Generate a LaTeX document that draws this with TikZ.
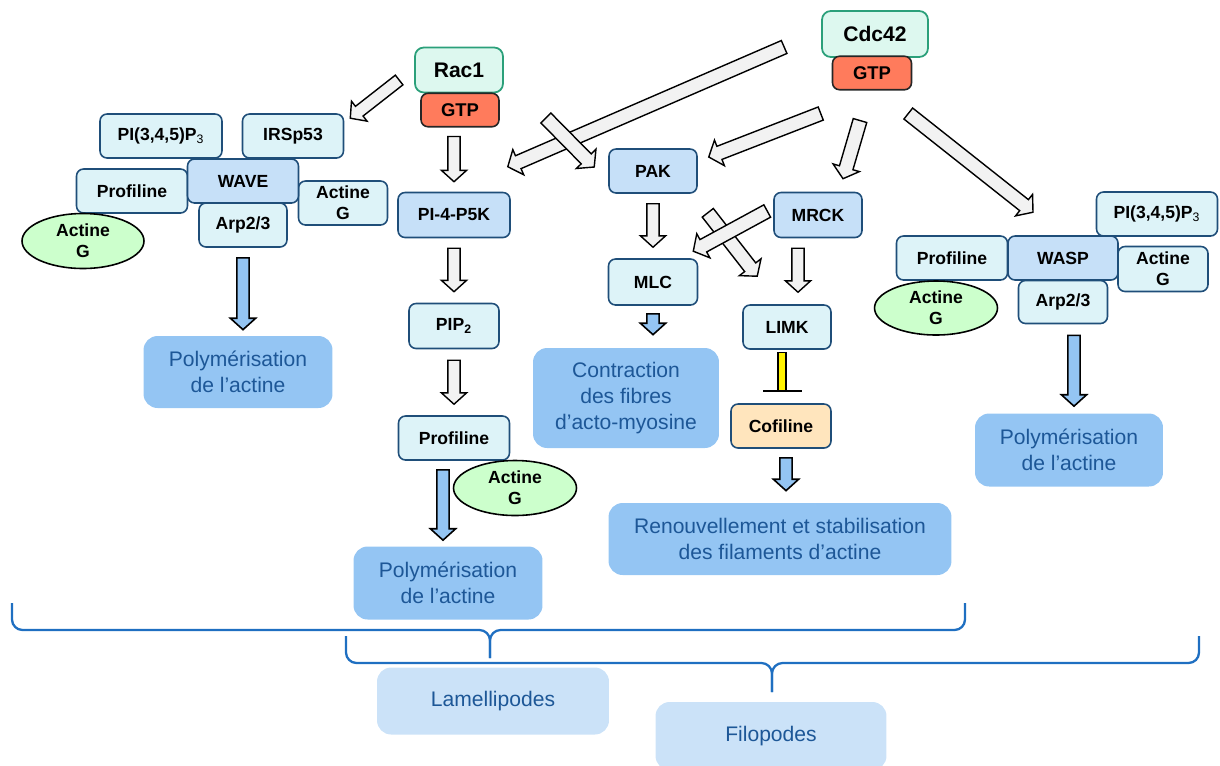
\documentclass[tikz,border=0pt]{standalone}
\usepackage{fontspec}
\setmainfont{Liberation Sans}
\usetikzlibrary{shapes.geometric, calc, positioning}

\definecolor{palecyan}{HTML}{DDF3F8}
\definecolor{midblue}{HTML}{C6E0F8}
\definecolor{darkblue}{HTML}{1F4E79}
\definecolor{mint}{HTML}{DDF8EF}
\definecolor{tealline}{HTML}{2BA07A}
\definecolor{salmon}{HTML}{FF7B5C}
\definecolor{palegreen}{HTML}{CCFFCC}
\definecolor{peach}{HTML}{FFE5BD}
\definecolor{skyblue}{HTML}{94C5F3}
\definecolor{paleblue}{HTML}{CBE2F8}
\definecolor{textblue}{HTML}{1D5797}
\definecolor{braceblue}{HTML}{1F6FC1}
\definecolor{arrowgray}{HTML}{F2F2F2}

\tikzset{
  protein/.style={rounded corners=4pt, draw=darkblue, line width=0.9pt, inner sep=0pt,
    font=\bfseries\fontsize{10}{12}\selectfont, align=center, minimum height=0.88cm},
  pale/.style={protein, fill=palecyan},
  mid/.style={protein, fill=midblue},
  cofbox/.style={protein, fill=peach},
  gtpase/.style={rounded corners=5pt, draw=tealline, fill=mint, line width=1pt, inner sep=0pt,
    font=\bfseries\fontsize{12}{14}\selectfont, minimum height=0.9cm},
  gtp/.style={rounded corners=4pt, draw=black!85, fill=salmon, line width=0.9pt, inner sep=0pt,
    font=\bfseries\fontsize{10.5}{12}\selectfont, minimum height=0.67cm},
  actineg/.style={ellipse, draw=black, fill=palegreen, line width=0.9pt, inner sep=0pt,
    font=\bfseries\fontsize{10}{12}\selectfont, align=center, minimum width=2.44cm, minimum height=1.1cm},
  outcome/.style={rounded corners=8pt, fill=skyblue, text=textblue, inner sep=0pt,
    font=\fontsize{12}{14.7}\selectfont, align=center},
  structure/.style={rounded corners=8pt, fill=paleblue, text=textblue, inner sep=0pt,
    font=\fontsize{12}{14}\selectfont},
  brace/.style={draw=braceblue, line width=1.3pt, rounded corners=6pt},
  grayarrow/.style={draw=black, fill=arrowgray, line width=0.8pt},
  bluearrow/.style={draw=black, fill=skyblue, line width=0.9pt}
}

% hollow block arrow from #2 to #3
\def\baw{3.5pt}
\def\bahw{7.2pt}
\newcommand\blockarrow[3][grayarrow]{%
  \path (#2) coordinate (ba s) (#3) coordinate (ba e);
  \coordinate (ba h) at ($(ba e)!6.5pt!(ba s)$);
  \draw[#1] ($(ba s)!\baw!90:(ba e)$) -- ($(ba h)!\baw!-90:(ba s)$)
    -- ($(ba h)!\bahw!-90:(ba s)$) -- (ba e) -- ($(ba h)!\bahw!90:(ba s)$)
    -- ($(ba h)!\baw!90:(ba s)$) -- ($(ba s)!\baw!-90:(ba e)$) -- cycle;
}

\begin{document}
\begin{tikzpicture}[x=0.02cm, y=-0.02cm]
  \useasboundingbox (0,0) rectangle (1220,765);

  % GTPases
  \node[gtpase, minimum width=1.76cm] (rac1) at (459,70) {Rac1};
  \node[gtp, minimum width=1.56cm] (gtpR) at (460,110) {GTP};
  \node[gtpase, minimum width=2.12cm, minimum height=0.92cm] (cdc42) at (875,34) {Cdc42};
  \node[gtp, minimum width=1.58cm] (gtpC) at (872,73) {GTP};

  % WAVE complex
  \node[pale, minimum width=2.44cm] (pipL) at (161,136) {PI(3,4,5)P\textsubscript{\mdseries 3}};
  \node[pale, minimum width=2.02cm] (irsp) at (293,136) {IRSp53};
  \node[pale, minimum width=2.22cm] (profL) at (132,191) {Profiline};
  \node[pale, minimum width=1.78cm] (actL) at (343,203) {Actine\\G};
  \node[pale, minimum width=1.76cm] (arpL) at (243,225) {Arp2/3};
  \node[mid, minimum width=2.22cm] (wave) at (243,181) {WAVE};
  \node[actineg] (actLe) at (83,241) {Actine\\G};
  \node[outcome, minimum width=3.78cm, minimum height=1.44cm] (polyL) at (238,372)
    {Polymérisation\\de l’actine};

  % PI-4-P5K pathway
  \node[mid, minimum width=2.24cm, minimum height=0.9cm] (pip5k) at (454,215) {PI-4-P5K};
  \node[pale, minimum width=1.8cm, minimum height=0.9cm] (pip2) at (454,326) {PIP\textsubscript{2}};
  \node[pale, minimum width=2.22cm] (profC) at (454,438) {Profiline};
  \node[actineg, minimum width=2.46cm] (actCe) at (515,488) {Actine\\G};
  \node[outcome, minimum width=3.78cm, minimum height=1.46cm] (polyC) at (448,583)
    {Polymérisation\\de l’actine};

  % PAK / MRCK
  \node[mid, minimum width=1.76cm] (pak) at (653,171) {PAK};
  \node[mid, minimum width=1.76cm, minimum height=0.9cm] (mrck) at (818,215) {MRCK};
  \node[pale, minimum width=1.78cm, minimum height=0.92cm] (mlc) at (653,282) {MLC};
  \node[pale, minimum width=1.76cm] (limk) at (787,327) {LIMK};
  \node[outcome, minimum width=3.72cm, minimum height=2cm] (contr) at (626,398)
    {Contraction\\des fibres\\d’acto-myosine};
  \node[cofbox, minimum width=2cm] (cofil) at (781,426) {Cofiline};
  \node[outcome, minimum width=6.86cm, minimum height=1.44cm] (renouv) at (780,539)
    {Renouvellement et stabilisation\\des filaments d’actine};

  % WASP complex
  \node[pale, minimum width=2.42cm] (pipR) at (1157,214) {PI(3,4,5)P\textsubscript{\mdseries 3}};
  \node[pale, minimum width=2.22cm] (profR) at (952,258) {Profiline};
  \node[pale, minimum width=1.8cm, minimum height=0.9cm] (actR) at (1163,269) {Actine\\G};
  \node[pale, minimum width=1.78cm, minimum height=0.86cm] (arpR) at (1063,302) {Arp2/3};
  \node[mid, minimum width=2.2cm] (wasp) at (1063,258) {WASP};
  \node[actineg, minimum width=2.46cm, minimum height=1.08cm] (actRe) at (936,308) {Actine\\G};
  \node[outcome, minimum width=3.76cm, minimum height=1.46cm] (polyR) at (1069,450)
    {Polymérisation\\de l’actine};

  % structures
  \node[structure, minimum width=4.64cm, minimum height=1.34cm] (lamelli) at (493,701) {Lamellipodes};
  \node[structure, minimum width=4.62cm, minimum height=1.36cm] (filo) at (771,736) {Filopodes};

  % activation arrows
  \blockarrow{$(rac1.west)+(-15,10)$}{$(irsp.north east)+(6,5)$}
  \blockarrow{$(gtpR.south)+(-6,9)$}{$(pip5k.north)+(0,-10)$}
  {\def\baw{4pt}\def\bahw{7.8pt}
  \blockarrow{$(cdc42.west)+(-37,13)$}{$(pip5k.north east)+(-3,-25)$}
  \blockarrow{$(rac1.east)+(42,48)$}{$(pak.west)+(-14,-4)$}
  \blockarrow{$(gtpC.south west)+(-11,23)$}{$(pak.east)+(11,-14)$}
  \blockarrow{$(gtpC.south)+(-12,30)$}{$(mrck.north)+(25,-13)$}
  \blockarrow{$(gtpC.south east)+(-4,23)$}{$(wasp.north)+(-30,-23)$}
  \blockarrow{$(pak.south east)+(10,19)$}{$(limk.north west)+(15,-28)$}
  \blockarrow{$(mrck.west)+(-6,-4)$}{$(mlc.north east)+(-5,-7)$}}
  \blockarrow{$(pip5k.south)+(0,10)$}{$(pip2.north)+(0,-11)$}
  \blockarrow{$(pip2.south)+(0,11)$}{$(profC.north)+(0,-11)$}
  \blockarrow{$(pak.south)+(0,10)$}{$(mlc.north)+(0,-11)$}
  \blockarrow{$(mrck.south)+(-20,10)$}{$(limk.north)+(11,-12)$}

  % towards the effects
  \blockarrow[bluearrow]{$(arpL.south)+(0,10)$}{$(polyL.north)+(5,-6)$}
  \blockarrow[bluearrow]{$(profC.south)+(-11,9)$}{$(polyC.north)+(-5,-6)$}
  \blockarrow[bluearrow]{$(mlc.south)+(0,8)$}{$(contr.north)+(27,-13)$}
  \blockarrow[bluearrow]{$(cofil.south)+(5,9)$}{$(renouv.north)+(6,-12)$}
  \blockarrow[bluearrow]{$(arpR.south)+(11,11)$}{$(polyR.north)+(5,-7)$}

  % LIMK inhibits cofiline
  \draw[fill=yellow, draw=black, line width=0.8pt] ($(limk.south)+(-9,3)$) rectangle ($(cofil.north)+(5,-12)$);
  \draw[line width=1.3pt] ($(cofil.north)+(-18,-12)$) -- ($(cofil.north)+(21,-12)$);

  % braces
  \draw[brace] (12,603) |- (490,630) -- (490,658);
  \draw[brace] (965,603) |- (490,630) -- (490,658);
  \draw[brace] (346,636) |- (772,663) -- (772,692);
  \draw[brace] (1199,636) |- (772,663) -- (772,692);
\end{tikzpicture}
\end{document}
